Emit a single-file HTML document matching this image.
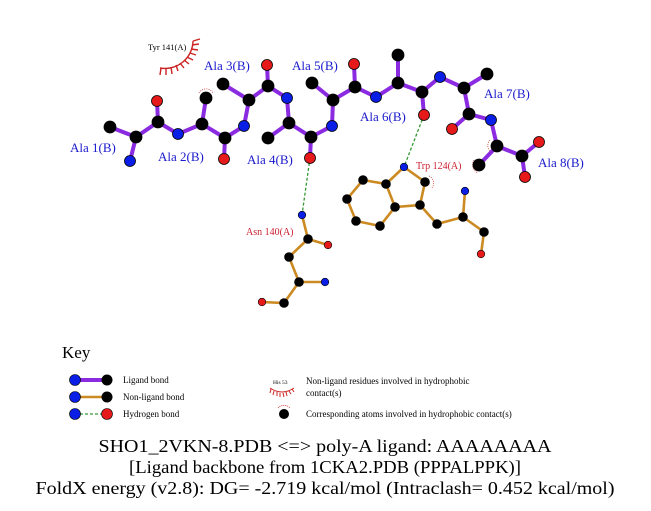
<!DOCTYPE html>
<html><head><meta charset="utf-8"><style>
html,body{margin:0;padding:0;background:#fff;}
svg{display:block;}
text{font-family:"Liberation Serif",serif;}
</style></head><body>
<svg width="651" height="511" viewBox="0 0 651 511" xmlns="http://www.w3.org/2000/svg">
<rect width="651" height="511" fill="#fff"/>
<!-- H-bonds -->
<g stroke="#339933" stroke-width="1.3" stroke-dasharray="3,2" fill="none">
<line x1="310" y1="158" x2="302" y2="215"/>
<line x1="424" y1="115" x2="404" y2="167"/>
</g>
<!-- non-ligand bonds -->
<g stroke="#cc8a22" stroke-width="2.6" stroke-linecap="round" fill="none">
<polyline points="404,167 425,182 420,205 395,207 386,184 404,167"/>
<polyline points="386,184 363,180 347,199 356,221 380,226 395,207"/>
<polyline points="420,205 437,224 463,217 484,232 481,254"/>
<line x1="463" y1="217" x2="465" y2="191"/>
<polyline points="302,215 308,239 289,257 299,282 284,303 262,302"/>
<line x1="308" y1="239" x2="328" y2="245"/>
<line x1="299" y1="282" x2="325" y2="282"/>
</g>
<!-- ligand bonds -->
<g stroke="#8a2be2" stroke-width="4" stroke-linecap="round" fill="none">
<polyline points="110,127 136,137 158,122 178,134 202,124 225,138 244,126 249,100 268,86 287,98 289,123 311,137 332,126 333,100 355,87 376,97 398,83 422,92 440,77 464,88 469,114 491,120 497,146 522,156 539,142"/>
<line x1="136" y1="137" x2="130" y2="161"/>
<line x1="158" y1="122" x2="157" y2="101"/>
<line x1="202" y1="124" x2="206" y2="98"/>
<line x1="225" y1="138" x2="224" y2="159"/>
<line x1="249" y1="100" x2="223" y2="84"/>
<line x1="268" y1="86" x2="267" y2="65"/>
<line x1="289" y1="123" x2="268" y2="138"/>
<line x1="311" y1="137" x2="310" y2="158"/>
<line x1="333" y1="100" x2="312" y2="83"/>
<line x1="355" y1="87" x2="354" y2="64"/>
<line x1="398" y1="83" x2="398" y2="55"/>
<line x1="422" y1="92" x2="424" y2="115"/>
<line x1="464" y1="88" x2="487" y2="74"/>
<line x1="469" y1="114" x2="452" y2="129"/>
<line x1="497" y1="146" x2="479" y2="165"/>
<line x1="522" y1="156" x2="525" y2="177"/>
</g>
<!-- hydrophobic marks on atoms -->
<g stroke="#cc3333" stroke-width="0.8" fill="none" stroke-dasharray="1,1.2">
<path d="M199,93 A8,8 0 0 1 213,93"/>
<path d="M474,160 A9,9 0 0 0 478,173"/>
<path d="M429,176 A8,8 0 0 1 432,188"/>
<path d="M490,140 A8,8 0 0 0 490,151"/>
</g>
<!-- ligand atoms -->
<g stroke="#000" stroke-width="0.8">
<g fill="#000">
<circle cx="110" cy="127" r="6"/><circle cx="136" cy="137" r="6"/><circle cx="158" cy="122" r="6"/>
<circle cx="202" cy="124" r="6"/><circle cx="206" cy="98" r="6"/><circle cx="225" cy="138" r="6"/>
<circle cx="249" cy="100" r="6"/><circle cx="223" cy="84" r="6"/><circle cx="268" cy="86" r="6"/>
<circle cx="289" cy="123" r="6"/><circle cx="268" cy="138" r="6"/><circle cx="311" cy="137" r="6"/>
<circle cx="333" cy="100" r="6"/><circle cx="312" cy="83" r="6"/><circle cx="355" cy="87" r="6"/>
<circle cx="398" cy="83" r="6"/><circle cx="398" cy="55" r="6"/><circle cx="422" cy="92" r="6"/>
<circle cx="464" cy="88" r="6"/><circle cx="487" cy="74" r="6"/><circle cx="469" cy="114" r="6"/>
<circle cx="497" cy="146" r="6"/><circle cx="479" cy="165" r="6"/><circle cx="522" cy="156" r="6"/>
</g>
<g fill="#0a1ee6">
<circle cx="130" cy="161" r="5.5"/><circle cx="178" cy="134" r="5.5"/><circle cx="244" cy="126" r="5.5"/>
<circle cx="287" cy="98" r="5.5"/><circle cx="332" cy="126" r="5.5"/><circle cx="376" cy="97" r="5.5"/>
<circle cx="440" cy="77" r="5.5"/><circle cx="491" cy="120" r="5.5"/>
</g>
<g fill="#e61a1a">
<circle cx="157" cy="101" r="5.5"/><circle cx="224" cy="159" r="5.5"/><circle cx="267" cy="65" r="5.5"/>
<circle cx="310" cy="158" r="5.5"/><circle cx="354" cy="64" r="5.5"/><circle cx="424" cy="115" r="5.5"/>
<circle cx="452" cy="129" r="5.5"/><circle cx="539" cy="142" r="5.5"/><circle cx="525" cy="177" r="5.5"/>
</g>
</g>
<!-- non-ligand atoms -->
<g stroke="#000" stroke-width="0.6">
<g fill="#000">
<circle cx="425" cy="182" r="4.5"/><circle cx="420" cy="205" r="4.5"/><circle cx="395" cy="207" r="4.5"/>
<circle cx="386" cy="184" r="4.5"/><circle cx="363" cy="180" r="4.5"/><circle cx="347" cy="199" r="4.5"/>
<circle cx="356" cy="221" r="4.5"/><circle cx="380" cy="226" r="4.5"/><circle cx="437" cy="224" r="4.5"/>
<circle cx="463" cy="217" r="4.5"/><circle cx="484" cy="232" r="4.5"/>
<circle cx="308" cy="239" r="4.5"/><circle cx="289" cy="257" r="4.5"/><circle cx="299" cy="282" r="4.5"/>
<circle cx="284" cy="303" r="4.5"/>
</g>
<g fill="#0a1ee6">
<circle cx="404" cy="167" r="3.8"/><circle cx="465" cy="191" r="3.8"/><circle cx="302" cy="215" r="3.8"/><circle cx="325" cy="282" r="3.8"/>
</g>
<g fill="#e61a1a">
<circle cx="481" cy="254" r="3.8"/><circle cx="328" cy="245" r="3.8"/><circle cx="262" cy="302" r="3.8"/>
</g>
</g>
<!-- Tyr 141 arc -->
<g stroke="#cc2222" stroke-width="1.4" fill="none">
<path d="M160,68 A28,28 0 0 0 193,41"/>
<path d="M161,68 l-1,7 M166,68 l0,7 M171,67 l1,7 M176,65 l2,6 M180,63 l4,5 M184,60 l5,4 M187,57 l6,3 M190,53 l6,2 M191,49 l7,1 M192,45 l7,-1 M193,41 l7,-2"/>
</g>
<text x="148" y="50" font-size="8.5" fill="#000">Tyr 141(A)</text>
<!-- labels -->
<g fill="#1a1acc" font-size="13">
<text x="70" y="152">Ala 1(B)</text>
<text x="158" y="161">Ala 2(B)</text>
<text x="204" y="70">Ala 3(B)</text>
<text x="247" y="164">Ala 4(B)</text>
<text x="292" y="70">Ala 5(B)</text>
<text x="360" y="121">Ala 6(B)</text>
<text x="484" y="98">Ala 7(B)</text>
<text x="538" y="167">Ala 8(B)</text>
</g>
<g fill="#cc2233" font-size="10">
<text x="416" y="169">Trp 124(A)</text>
<text x="246" y="235">Asn 140(A)</text>
</g>
<!-- Key -->
<text x="62" y="358" font-size="17" fill="#000">Key</text>
<line x1="75" y1="380" x2="107" y2="380" stroke="#8a2be2" stroke-width="4"/>
<circle cx="75" cy="380" r="5.5" fill="#0a1ee6" stroke="#000" stroke-width="0.6"/>
<circle cx="107" cy="380" r="5.5" fill="#000"/>
<line x1="75" y1="397" x2="107" y2="397" stroke="#cc8a22" stroke-width="2.5"/>
<circle cx="75" cy="397" r="5.5" fill="#0a1ee6" stroke="#000" stroke-width="0.6"/>
<circle cx="107" cy="397" r="5.5" fill="#000"/>
<line x1="75" y1="414" x2="107" y2="414" stroke="#339933" stroke-width="1.2" stroke-dasharray="3,2"/>
<circle cx="75" cy="414" r="5.5" fill="#0a1ee6" stroke="#000" stroke-width="0.6"/>
<circle cx="107" cy="414" r="5.5" fill="#e61a1a" stroke="#000" stroke-width="0.6"/>
<g font-size="9" fill="#000">
<text x="123" y="383">Ligand bond</text>
<text x="123" y="400">Non-ligand bond</text>
<text x="123" y="417">Hydrogen bond</text>
<text x="306" y="384">Non-ligand residues involved in hydrophobic</text>
<text x="306" y="396">contact(s)</text>
<text x="306" y="417">Corresponding atoms involved in hydrophobic contact(s)</text>
</g>
<text x="273" y="384" font-size="5.5" fill="#000">His 53</text>
<g stroke="#cc2222" stroke-width="1" fill="none">
<path d="M270,388 Q282,396 294,388"/>
<path d="M271,389 l-1,4 M274,391 l-1,4 M277,392 l0,4 M280,393 l0,4 M283,393 l1,4 M286,392 l1,4 M289,391 l2,3 M292,389 l2,3"/>
</g>
<circle cx="284" cy="414" r="5" fill="#000"/>
<path d="M278,408 A8,8 0 0 1 290,408" stroke="#cc2222" stroke-width="0.8" fill="none" stroke-dasharray="1,1"/>
<!-- footer -->
<g font-size="18" fill="#000" text-anchor="middle">
<text x="325" y="452" textLength="453" lengthAdjust="spacingAndGlyphs">SHO1_2VKN-8.PDB &lt;=&gt; poly-A ligand: AAAAAAAA</text>
<text x="325" y="473" textLength="392" lengthAdjust="spacingAndGlyphs">[Ligand backbone from 1CKA2.PDB (PPPALPPK)]</text>
<text x="325" y="494" textLength="579" lengthAdjust="spacingAndGlyphs">FoldX energy (v2.8): DG= -2.719 kcal/mol (Intraclash= 0.452 kcal/mol)</text>
</g>
</svg>
</body></html>
